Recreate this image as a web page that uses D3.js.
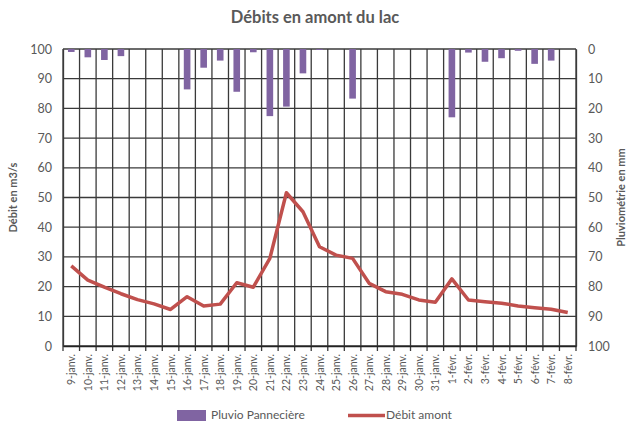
<!DOCTYPE html>
<html>
  <head>
    <meta charset="utf-8">
    <style>
      body { margin: 0; background: #fff; }
      text { font-family: Lato, "Open Sans", sans-serif; fill: #595959; }
    </style>
    <script src="https://cdnjs.cloudflare.com/ajax/libs/d3/7.8.5/d3.min.js"></script>
  </head>
  <body>
    <div id="chart"></div>
    <script>
      const days = ["9-janv.","10-janv.","11-janv.","12-janv.","13-janv.","14-janv.","15-janv.","16-janv.",
        "17-janv.","18-janv.","19-janv.","20-janv.","21-janv.","22-janv.","23-janv.","24-janv.","25-janv.",
        "26-janv.","27-janv.","28-janv.","29-janv.","30-janv.","31-janv.","1-févr.","2-févr.","3-févr.",
        "4-févr.","5-févr.","6-févr.","7-févr.","8-févr."];
      // pluie en mm (axe de droite, inversé)
      const pluvio = [1.0, 2.8, 3.7, 2.4, 0, 0, 0, 13.6, 6.3, 3.9, 14.4, 1.1, 22.6, 19.4, 8.2, 0.3,
        0, 16.7, 0, 0, 0, 0, 0, 23.0, 1.2, 4.3, 3.1, 0.6, 5.0, 3.9, 0];
      // débit en m3/s
      const debit = [27.0, 22.2, 19.8, 17.6, 15.6, 14.2, 12.3, 16.6, 13.5, 14.1, 21.3, 19.8, 29.5, 51.6,
        45.2, 33.4, 30.6, 29.5, 21.1, 18.3, 17.4, 15.5, 14.7, 22.6, 15.5, 14.9, 14.4, 13.5, 12.9, 12.4, 11.3];
      const leftTicks = [0,10,20,30,40,50,60,70,80,90,100];
      const rightTicks = [0,10,20,30,40,50,60,70,80,90,100];

      const width = 633, height = 423;
      const mLeft = 63, mRight = 576, mTop = 49, mBottom = 346;

      const svg = d3.select("#chart").append("svg")
        .attr("width", width).attr("height", height);

      const x = d3.scaleBand().domain(days).range([mLeft, mRight]).padding(0);
      const y = d3.scaleLinear().domain([0, 100]).range([mBottom, mTop]);
      const y2 = d3.scaleLinear().domain([0, 100]).range([mTop, mBottom]);

      // title
      svg.append("text")
        .attr("x", 315).attr("y", 23)
        .attr("text-anchor", "middle")
        .style("font-size", "16.5px").style("font-weight", "bold")
        .text("Débits en amont du lac");

      // grid
      const grid = svg.append("g").attr("stroke", "#3a3a3a").attr("stroke-width", 1.3);
      grid.selectAll(".h").data(leftTicks).join("line")
        .attr("x1", mLeft).attr("x2", mRight)
        .attr("y1", d => y(d)).attr("y2", d => y(d));
      const bounds = days.map(d => x(d)).concat([mRight]);
      grid.selectAll(".v").data(bounds).join("line")
        .attr("x1", d => d).attr("x2", d => d)
        .attr("y1", mTop).attr("y2", mBottom + 5);

      // bars hanging from top
      const bw = x.bandwidth() * 0.4;
      svg.append("g").selectAll("rect").data(pluvio).join("rect")
        .attr("x", (d, i) => x(days[i]) + x.bandwidth() / 2 - bw / 2)
        .attr("y", y2(0))
        .attr("width", bw)
        .attr("height", d => y2(d) - y2(0))
        .attr("fill", "#8064A2");

      // debit line
      const line = d3.line()
        .x((d, i) => x(days[i]) + x.bandwidth() / 2)
        .y(d => y(d));
      svg.append("path")
        .datum(debit)
        .attr("fill", "none")
        .attr("stroke", "#C0504D")
        .attr("stroke-width", 3.5)
        .attr("stroke-linejoin", "round")
        .attr("d", line);

      // axes
      const yAxis = svg.append("g")
        .attr("transform", `translate(${mLeft},0)`)
        .call(d3.axisLeft(y).tickValues(leftTicks).tickSize(0).tickPadding(11));
      yAxis.select(".domain").attr("stroke", "#3a3a3a").attr("stroke-width", 1.3);
      yAxis.selectAll("text").style("font-size", "12.5px").style("font-family", "Lato, sans-serif").attr("fill", "#595959");

      const y2Axis = svg.append("g")
        .attr("transform", `translate(${mRight},0)`)
        .call(d3.axisRight(y2).tickValues(rightTicks).tickSize(0).tickPadding(12));
      y2Axis.select(".domain").attr("stroke", "#3a3a3a").attr("stroke-width", 1.3);
      y2Axis.selectAll("text").style("font-size", "12.5px").style("font-family", "Lato, sans-serif").attr("fill", "#595959");

      const xAxis = svg.append("g")
        .attr("transform", `translate(0,${mBottom})`)
        .call(d3.axisBottom(x).tickSize(0).tickPadding(0));
      xAxis.select(".domain").attr("stroke", "#222").attr("stroke-width", 1.5);
      xAxis.selectAll("text")
        .style("font-size", "10.5px").style("font-family", "Lato, sans-serif").attr("fill", "#595959")
        .attr("text-anchor", "end")
        .attr("dy", null)
        .attr("transform", "translate(0,8) rotate(-90)")
        .attr("x", 0).attr("y", 0)
        .attr("dominant-baseline", "central");

      // axis titles
      svg.append("text")
        .attr("transform", `translate(17,${(mTop + mBottom) / 2}) rotate(-90)`)
        .attr("text-anchor", "middle")
        .style("font-size", "11px").style("font-weight", "bold")
        .text("Débit en m3/s");
      svg.append("text")
        .attr("transform", `translate(625,${(mTop + mBottom) / 2}) rotate(-90)`)
        .attr("text-anchor", "middle")
        .style("font-size", "11px").style("font-weight", "bold")
        .text("Pluviométrie en mm");

      // legend
      const lg = svg.append("g");
      lg.append("rect").attr("x", 177).attr("y", 410).attr("width", 29).attr("height", 11).attr("fill", "#8064A2");
      lg.append("text").attr("x", 211).attr("y", 419).style("font-size", "12px").text("Pluvio Pannecière");
      lg.append("line").attr("x1", 348).attr("x2", 385).attr("y1", 415.5).attr("y2", 415.5)
        .attr("stroke", "#C0504D").attr("stroke-width", 3.5);
      lg.append("text").attr("x", 386).attr("y", 419).style("font-size", "12px").text("Débit amont");
    </script>
  </body>
</html>
